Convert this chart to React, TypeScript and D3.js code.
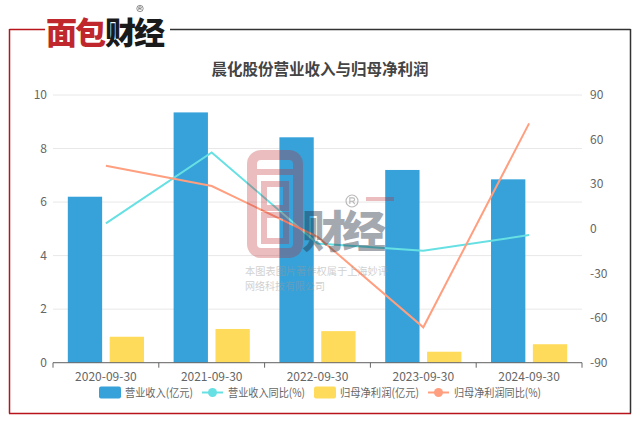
import React from "react";
import * as d3 from "d3";

const categories = ["2020-09-30", "2021-09-30", "2022-09-30", "2023-09-30", "2024-09-30"];
const revenue = [6.2, 9.35, 8.42, 7.2, 6.85];
const revenueYoY = [3.7, 51.4, -9.8, -14.7, -4.2];
const netProfit = [0.97, 1.26, 1.18, 0.41, 0.69];
const netProfitYoY = [42.4, 28.8, -5.3, -66.2, 70.9];
const leftTicks = [0, 2, 4, 6, 8, 10];
const rightTicks = [-90, -60, -30, 0, 30, 60, 90];

const C_BLUE = "#37A2DA";
const C_CYAN = "#67E0E3";
const C_YELLOW = "#FFDB5C";
const C_ORANGE = "#FF9F7F";
const FONT = "'Noto Sans CJK SC', 'Noto Sans', sans-serif";

function RegMark({ cx, cy, r, color }: { cx: number; cy: number; r: number; color: string }) {
  const s = r / 5;
  return (
    <g>
      <circle cx={cx} cy={cy} r={r} fill="none" stroke={color} strokeWidth={r * 0.18} />
      <path
        d={`M${cx - 1.8 * s},${cy + 2.6 * s} V${cy - 2.6 * s} H${cx + 0.6 * s} Q${cx + 2.2 * s},${cy - 2.6 * s} ${cx + 2.2 * s},${cy - 1.2 * s} Q${cx + 2.2 * s},${cy + 0.2 * s} ${cx + 0.6 * s},${cy + 0.2 * s} H${cx - 1.8 * s} M${cx + 0.4 * s},${cy + 0.2 * s} L${cx + 2.4 * s},${cy + 2.6 * s}`}
        fill="none"
        stroke={color}
        strokeWidth={r * 0.18}
      />
    </g>
  );
}

export default function App() {
  const W = 640, H = 424;
  const m = { left: 53, right: 582, top: 95, bottom: 362.7 };
  const x = d3.scaleBand<string>().domain(categories).range([m.left, m.right]);
  const sub = d3
    .scaleBand<string>()
    .domain(["rev", "profit"])
    .range([x.bandwidth() * 0.14, x.bandwidth() * 0.86])
    .paddingInner(0.18);
  const yL = d3.scaleLinear().domain([0, 10]).range([m.bottom, m.top]);
  const yR = d3.scaleLinear().domain([-90, 90]).range([m.bottom, m.top]);
  const cx = (c: string) => (x(c) as number) + x.bandwidth() / 2;

  const line = d3
    .line<number>()
    .x((_, i) => cx(categories[i]))
    .y((d) => yR(d));

  const boundaries = [...categories.map((c) => x(c) as number), m.right];

  const legend = [
    { type: "rect", color: C_BLUE, label: "营业收入(亿元)", x: 99, w: 68 },
    { type: "line", color: C_CYAN, label: "营业收入同比(%)", x: 202, w: 77 },
    { type: "rect", color: C_YELLOW, label: "归母净利润(亿元)", x: 314, w: 79 },
    { type: "line", color: C_ORANGE, label: "归母净利润同比(%)", x: 428, w: 87 },
  ];
  const ly = 392.5;

  return (
    <svg
      width={W}
      height={H}
      style={{ position: "absolute", left: 0, top: 0, display: "block", background: "#fff" }}
      fontFamily={FONT}
    >
      {/* frame */}
      <line x1={9.5} y1={29.5} x2={45} y2={29.5} stroke="#b8141c" strokeWidth={1.5} />
      <line x1={9.5} y1={29} x2={9.5} y2={413.5} stroke="#b8141c" strokeWidth={1.5} />
      <line x1={9} y1={413.5} x2={631} y2={413.5} stroke="#b8141c" strokeWidth={1.5} />
      <line x1={170} y1={29.5} x2={630.5} y2={29.5} stroke="#333" strokeWidth={1.5} />
      <line x1={630.5} y1={29} x2={630.5} y2={413.5} stroke="#333" strokeWidth={1.5} />
      {/* logo */}
      <text x={46} y={44} fontSize={31} fontWeight={900} fill="#c0272d" letterSpacing={-2}>
        面包
      </text>
      <text x={105} y={44} fontSize={31} fontWeight={900} fill="#1a1a1a" letterSpacing={-2}>
        财经
      </text>
      <RegMark cx={140} cy={8.5} r={3.2} color="#444" />

      {/* title */}
      <text x={320} y={75} textAnchor="middle" fontSize={15.5} fontWeight={700} fill="#444">
        晨化股份营业收入与归母净利润
      </text>

      {/* grid */}
      {leftTicks.map((t) => (
        <line key={"g" + t} x1={m.left} x2={m.right} y1={yL(t)} y2={yL(t)} stroke="#e8e8e8" strokeWidth={1} />
      ))}
      {leftTicks.map((t) => (
        <text key={"l" + t} x={47} y={yL(t)} dy="0.35em" textAnchor="end" fontSize={12} fill="#666">
          {t}
        </text>
      ))}
      {rightTicks.map((t) => (
        <text key={"r" + t} x={590} y={yR(t)} dy="0.35em" textAnchor="start" fontSize={12} fill="#666">
          {t}
        </text>
      ))}

      {/* bars */}
      {categories.map((c, i) => (
        <g key={"b" + c} transform={`translate(${x(c)},0)`}>
          <rect x={sub("rev")} width={sub.bandwidth()} y={yL(revenue[i])} height={yL(0) - yL(revenue[i])} fill={C_BLUE} />
          <rect x={sub("profit")} width={sub.bandwidth()} y={yL(netProfit[i])} height={yL(0) - yL(netProfit[i])} fill={C_YELLOW} />
        </g>
      ))}

      {/* x axis */}
      <line x1={m.left} x2={m.right} y1={m.bottom} y2={m.bottom} stroke="#666" strokeWidth={1} />
      {boundaries.map((b, i) => (
        <line key={"t" + i} x1={b} x2={b} y1={m.bottom} y2={m.bottom + 5} stroke="#666" />
      ))}
      {categories.map((c) => (
        <text key={"x" + c} x={cx(c)} y={377} dy="0.35em" textAnchor="middle" fontSize={12} fill="#666">
          {c}
        </text>
      ))}

      {/* lines */}
      <path d={line(revenueYoY) || ""} fill="none" stroke={C_CYAN} strokeWidth={2} />
      <path d={line(netProfitYoY) || ""} fill="none" stroke={C_ORANGE} strokeWidth={2} />

      {/* watermark */}
      <g opacity={0.3}>
        <rect x={252} y={155} width={46} height={98} rx={9} fill="none" stroke="#c0272d" strokeWidth={10} />
        <line x1={256} x2={294} y1={172} y2={172} stroke="#c0272d" strokeWidth={6} />
        <rect x={264} y={184} width={22} height={24} fill="none" stroke="#c0272d" strokeWidth={6} />
        <rect x={264} y={215} width={22} height={26} fill="none" stroke="#c0272d" strokeWidth={6} />
        <line x1={366} x2={394} y1={199} y2={199} stroke="#c0272d" strokeWidth={4} />
      </g>
      <g opacity={0.4}>
        <text x={302} y={248} fontSize={44} fontWeight={900} fill="#1c2a3a" letterSpacing={-4}>
          财经
        </text>
        <RegMark cx={352} cy={201} r={6} color="#555" />
      </g>
      <g opacity={0.45} fill="#999" fontSize={10}>
        <text x={245} y={274.5} textLength={143} lengthAdjust="spacingAndGlyphs">本图表图片著作权属于上海妙评</text>
        <text x={245} y={290} textLength={80} lengthAdjust="spacingAndGlyphs">网络科技有限公司</text>
      </g>

      {/* legend */}
      {legend.map((l) => (
        <g key={l.label}>
          {l.type === "rect" ? (
            <rect x={l.x} y={ly - 6} width={22} height={12} rx={2} fill={l.color} />
          ) : (
            <g>
              <line x1={l.x} x2={l.x + 21} y1={ly} y2={ly} stroke={l.color} strokeWidth={2} />
              <circle cx={l.x + 10.5} cy={ly} r={4.5} fill={l.color} />
            </g>
          )}
          <text
            x={l.x + 26}
            y={ly}
            dy="0.35em"
            fontSize={11.5}
            fill="#666"
            textLength={l.w}
            lengthAdjust="spacingAndGlyphs"
          >
            {l.label}
          </text>
        </g>
      ))}
    </svg>
  );
}
